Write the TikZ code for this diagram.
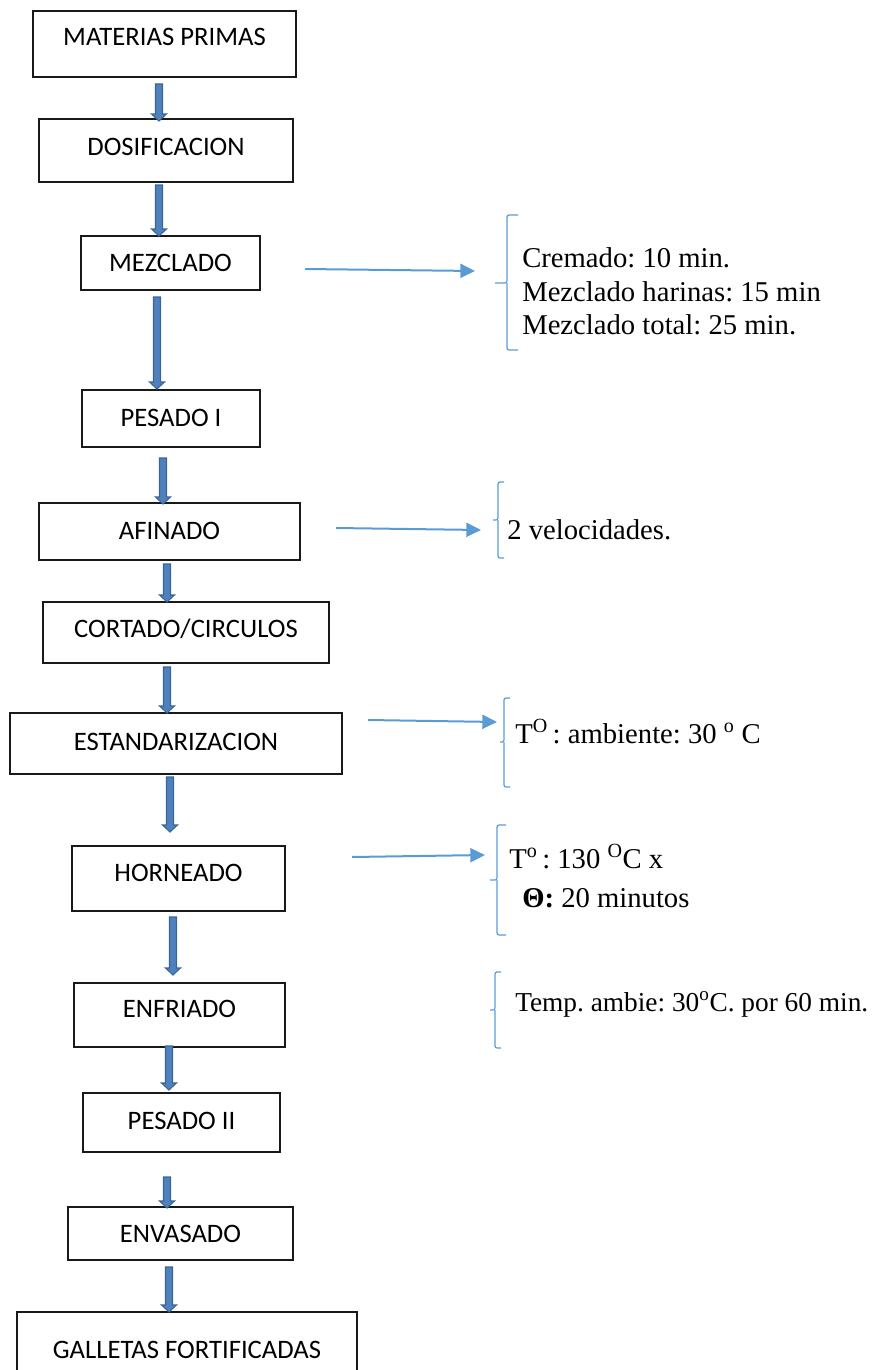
\documentclass[tikz,border=0pt]{standalone}
\usepackage{fontspec}
\setmainfont{Liberation Serif}
\newfontfamily\boxfont{Carlito}
\usetikzlibrary{calc,arrows.meta}
\definecolor{flowfill}{HTML}{4F81BD}
\definecolor{flowedge}{HTML}{3A6596}
\definecolor{sideblue}{HTML}{5B9BD5}
\frenchspacing

\tikzset{
  stage/.style 2 args={draw=black!90, line width=1pt, minimum width=#1*0.75pt,
    minimum height=#2*0.75pt, inner sep=0pt, outer sep=0pt},
  stagetext/.style={font=\boxfont\fontsize{20pt}{23pt}\selectfont, anchor=base, inner sep=0pt},
  note/.style={font=\fontsize{21.5pt}{25pt}\selectfont, anchor=base west, inner sep=0pt},
  flowarr/.style={fill=flowfill, draw=flowedge, line width=0.8pt, line join=miter},
  sidearrow/.style={draw=sideblue, line width=1.5pt, -{Triangle[length=11pt,width=10.5pt]}},
  bracket/.style={draw=sideblue, line width=0.9pt, rounded corners=1.5pt},
}

% thick block arrow between two points (start, tip)
\newcommand\flowarrow[2]{%
  \path #1 coordinate (fa-s) #2 coordinate (fa-e);
  \filldraw[flowarr] ($(fa-s)+(-3.5,0)$) -- ($(fa-e)+(-3.5,-7)$) -- ($(fa-e)+(-7.5,-7)$)
    -- (fa-e) -- ($(fa-e)+(7.5,-7)$) -- ($(fa-e)+(3.5,-7)$) -- ($(fa-s)+(3.5,0)$) -- cycle;}

% side bracket: x, top, middle, bottom, tick end, hook end
\newcommand\sidebracket[6]{%
  \draw[bracket] (#6,#2) -- (#1,#2) -- (#1,#3) -- (#5,#3);
  \draw[bracket] (#1,#3) -- (#1,#4) -- (#6,#4);}

\begin{document}
\begin{tikzpicture}[x=0.75pt, y=-0.75pt]
\useasboundingbox (0,0) rectangle (885,1370);
\clip (0,0) rectangle (885,1370);

% process stages
\node[stage={263}{66}] (n1) at (164.5,44) {};
\node[stage={254}{63}] (n2) at (166,150.5) {};
\node[stage={179}{54}] (n3) at (170.5,263) {};
\node[stage={178}{57}] (n4) at (171,418.5) {};
\node[stage={261}{57}] (n5) at (169.5,531.5) {};
\node[stage={286}{61}] (n6) at (186,632.5) {};
\node[stage={332}{61}] (n7) at (176,743.5) {};
\node[stage={213}{65}] (n8) at (178.5,878.5) {};
\node[stage={211}{64}] (n9) at (179.5,1015) {};
\node[stage={197}{59}] (n10) at (181.5,1122.5) {};
\node[stage={225}{53}] (n11) at (180.5,1233.5) {};
\node[stage={340}{78}] (n12) at (187,1351) {};

\node[stagetext] (t1) at (164.5,46) {MATERIAS PRIMAS};
\node[stagetext] (t2) at (166,155) {DOSIFICACION};
\node[stagetext] (t3) at (170.5,271) {MEZCLADO};
\node[stagetext] (t4) at (171,426) {PESADO I};
\node[stagetext] (t5) at (169.5,539) {AFINADO};
\node[stagetext] (t6) at (186,637) {CORTADO/CIRCULOS};
\node[stagetext] (t7) at (176,750) {ESTANDARIZACION};
\node[stagetext] (t8) at (178.5,881) {HORNEADO};
\node[stagetext] (t9) at (179.5,1017) {ENFRIADO};
\node[stagetext] (t10) at (181.5,1129) {PESADO II};
\node[stagetext] (t11) at (180.5,1242) {ENVASADO};
\node[stagetext] (t12) at (187,1358) {GALLETAS FORTIFICADAS};

% flow arrows
\flowarrow{($(n1.south)+(-5.5,7)$)}{($(n2.north)+(-7,2)$)}
\flowarrow{($(n2.south)+(-7,3)$)}{($(n3.north)+(-11.5,0)$)}
\flowarrow{($(n3.south)+(-13.5,7)$)}{($(n4.north)+(-14,-1)$)}
\flowarrow{($(n4.south)+(-8,11)$)}{($(n5.north)+(-6.5,1)$)}
\flowarrow{($(n5.south)+(-2.5,4)$)}{($(n6.north)+(-19,0)$)}
\flowarrow{($(n6.south)+(-19,4)$)}{($(n7.north)+(-9,0)$)}
\flowarrow{($(n7.south)+(-6,3)$)}{($(n8.north)+(-8.5,-14)$)}
\flowarrow{($(n8.south)+(-5.5,6)$)}{($(n9.north)+(-6.5,-8)$)}
\flowarrow{($(n9.south)+(-10.5,-1)$)}{($(n10.north)+(-12.5,-3)$)}
\flowarrow{($(n10.south)+(-14.5,25)$)}{($(n11.north)+(-13.5,1)$)}
\flowarrow{($(n11.south)+(-11.5,7)$)}{($(n12.north)+(-18,0)$)}

% side notes
\coordinate (s1) at (305,269);  \coordinate (e1) at (475,271);
\coordinate (s2) at (336,528);  \coordinate (e2) at (481,530);
\coordinate (s3) at (368,720);  \coordinate (e3) at (497,722);
\coordinate (s4) at (352,857);  \coordinate (e4) at (485,855);
\draw[sidearrow] (s1) -- (e1);
\draw[sidearrow] (s2) -- (e2);
\draw[sidearrow] (s3) -- (e3);
\draw[sidearrow] (s4) -- (e4);

\sidebracket{507}{215}{283}{350}{495}{518}
\sidebracket{498}{482}{520}{558}{493}{504}
\sidebracket{504}{698}{742}{787}{500}{510}
\sidebracket{497}{825}{880}{935}{490}{506}
\sidebracket{495}{972}{1010}{1048}{490}{501}

\node[note] (m1) at (522,267) {Cremado: 10 min.};
\node[note] (m2) at (522,301) {Mezclado harinas: 15 min};
\node[note] (m3) at (522,334) {Mezclado total: 25 min.};
\node[note] (a1) at (507,539) {2 velocidades.};
\node[note] (e1t) at (515,743) {T\textsuperscript{O}\,: ambiente: 30 \textsuperscript{o} C};
\node[note] (h1) at (509,868) {T\textsuperscript{o}\,: 130 \textsuperscript{O}C x};
\node[note] (h2) at (522,907) {{\bfseries Θ:} 20 minutos};
\node[note, font=\fontsize{20.5pt}{25pt}\selectfont] (f1) at (515,1011)
  {Temp. ambie: 30\textsuperscript{o}C. por 60 min.};
\end{tikzpicture}
\end{document}
